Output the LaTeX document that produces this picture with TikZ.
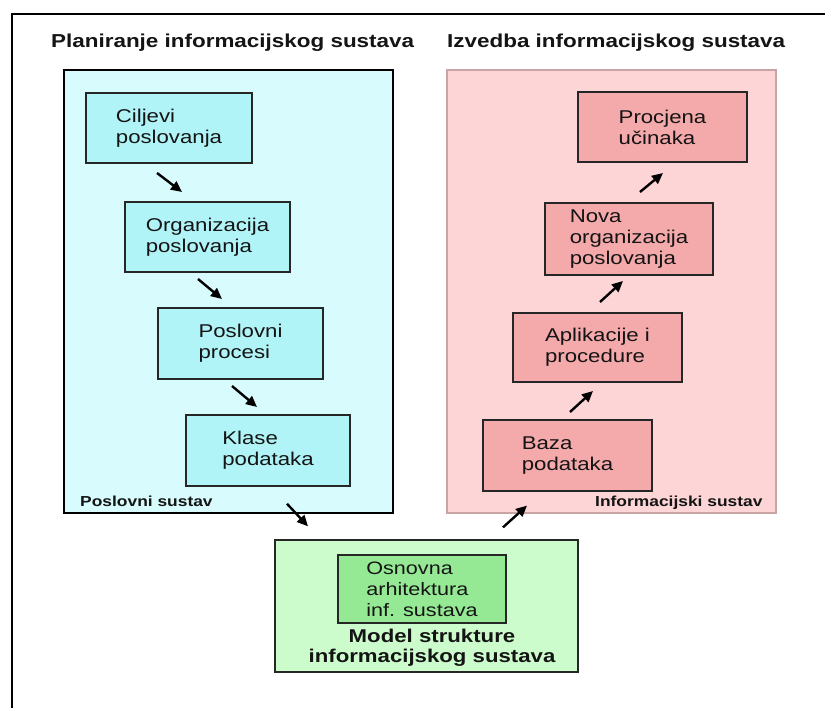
\documentclass[tikz,border=0pt]{standalone}
\usepackage{fontspec}
\setmainfont[FakeStretch=1.2]{Liberation Sans}
\usetikzlibrary{arrows.meta,calc}
\definecolor{cBluePanel}{HTML}{D8FCFD}
\definecolor{cBlueBox}{HTML}{B0F4F8}
\definecolor{cPinkPanel}{HTML}{FDD5D6}
\definecolor{cPinkBox}{HTML}{F4A9AB}
\definecolor{cPinkLine}{HTML}{C8A4A4}
\definecolor{cGreenPanel}{HTML}{CCFCCC}
\definecolor{cGreenBox}{HTML}{95E995}
\definecolor{cLine}{HTML}{262626}
\definecolor{cText}{HTML}{141414}
\begin{document}
\begin{tikzpicture}[x=1pt,y=-1pt,
  every node/.style={text=cText},
  titletext/.style={font=\bfseries\fontsize{18.7}{22}\selectfont,inner sep=0pt},
  paneltext/.style={font=\bfseries\fontsize{14.5}{17}\selectfont,inner sep=0pt},
  boxbase/.style={draw=cLine,line width=2pt,align=left,inner sep=0pt,
    font=\fontsize{18.5}{21}\selectfont},
  bluebx/.style={boxbase,fill=cBlueBox,minimum width=#1},
  pinkbx/.style={boxbase,fill=cPinkBox,minimum width=#1},
  arr/.style={draw=black,line width=2.4pt,-{Triangle[length=11pt,width=10pt]}}
]
\useasboundingbox (0,0) rectangle (825,708);
\fill[white] (0,0) rectangle (825,708);
% outer frame
\draw[line width=2.5pt,black] (12,712) -- (12,14) -- (830,14);

% titles
\node[titletext,anchor=base west] (t1) at (51,48) {Planiranje informacijskog sustava};
\node[titletext,anchor=base west] (t2) at (447,48) {Izvedba informacijskog sustava};

% panels
\node[draw=black,line width=1.5pt,fill=cBluePanel,minimum width=329pt,minimum height=443pt,inner sep=0pt] (blue) at (228.5,291.5) {};
\node[draw=cPinkLine,line width=1.2pt,fill=cPinkPanel,minimum width=329pt,minimum height=443pt,inner sep=0pt] (pink) at (611.5,291.5) {};
\node[draw=cLine,line width=1.3pt,fill=cGreenPanel,minimum width=303pt,minimum height=132pt,inner sep=0pt] (green) at (426.5,606) {};

% blue boxes
\node[bluebx=166pt,minimum height=70pt] (cilj) at (169,128) {Ciljevi\\poslovanja};
\node[bluebx=165pt,minimum height=70pt] (org) at (207.5,237) {Organizacija\\poslovanja};
\node[bluebx=165pt,minimum height=71pt] (pos) at (240.5,343.5) {Poslovni\\procesi};
\node[bluebx=164pt,minimum height=71pt] (kla) at (268,450.5) {Klase\\podataka};

% pink boxes
\node[pinkbx=169pt,minimum height=70pt] (proc) at (662.5,127) {Procjena\\učinaka};
\node[pinkbx=168pt,minimum height=72pt] (nova) at (629,239) {Nova\\organizacija\\poslovanja};
\node[pinkbx=169pt,minimum height=69pt] (apl) at (597.5,347.5) {Aplikacije i\\procedure};
\node[pinkbx=169pt,minimum height=71pt] (baza) at (567.5,455.5) {Baza\\podataka};

% green inner box
\node[draw=cLine,line width=2pt,fill=cGreenBox,minimum width=168pt,minimum height=68pt,inner sep=0pt,align=left,font=\fontsize{18}{21}\selectfont] (arh) at (422,589) {Osnovna\\arhitektura\\inf. sustava};
\node[align=center,inner sep=0pt,font=\bfseries\fontsize{18.5}{20}\selectfont] (model) at (432,648) {Model strukture\\informacijskog sustava};

% panel labels
\node[paneltext,anchor=base west] (lb1) at (80,506) {Poslovni sustav};
\node[paneltext,anchor=base west] (lb2) at (595,507) {Informacijski sustav};

% arrows
\draw[arr] ($(cilj.south)+(-12,9)$) -- ($(org.north)+(-25.5,-9)$);
\draw[arr] ($(org.south)+(-9.5,6)$) -- ($(pos.north)+(-18.5,-8)$);
\draw[arr] ($(pos.south)+(-8.5,6)$) -- ($(kla.north)+(-11,-7)$);
\draw[arr] ($(blue.south)+(58.5,-10)$) -- ($(green.north)+(-118.5,-13)$);
\draw[arr] ($(green.north)+(76.5,-12)$) -- ($(pink.south)+(-84.5,-8)$);
\draw[arr] ($(baza.north)+(2.5,-7)$) -- ($(apl.south)+(-4.5,8)$);
\draw[arr] ($(apl.north)+(2.5,-10)$) -- ($(nova.south)+(-6,5)$);
\draw[arr] ($(nova.north)+(11,-10)$) -- ($(proc.south)+(0.5,10)$);
\end{tikzpicture}
\end{document}
